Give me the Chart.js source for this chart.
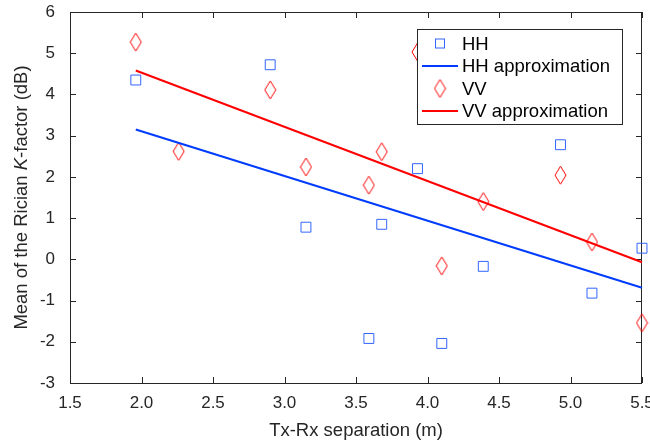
<!DOCTYPE html>
<html>
<head>
<meta charset="utf-8">
<script src="https://cdn.jsdelivr.net/npm/chart.js@4"></script>
<style>
  body { margin: 0; background: #fff; }
  #wrap { width: 650px; height: 446px; }
</style>
</head>
<body>
<div id="wrap"><canvas id="kChart" width="650" height="446"></canvas></div>
<script>
// values
const separation = [1.96, 2.26, 2.9, 3.15, 3.59, 3.68, 3.93, 4.1, 4.39, 4.93, 5.15, 5.5];
const hhK = [4.35, null, 4.72, 0.78, -1.92, 0.85, 2.2, -2.04, -0.17, 2.78, -0.82, 0.27];
const vvK = [5.27, 2.62, 4.11, 2.24, 1.8, 2.61, 5.03, -0.16, 1.4, 2.04, 0.42, -1.54];
const fitX = [1.96, 5.5];
const hhFit = [3.15, -0.69];
const vvFit = [4.58, -0.07];
const legendLabels = ['HH', 'HH approximation', 'VV', 'VV approximation'];

const axisColor = '#262626';
const blue = 'rgb(0,60,255)';
const blueMarker = 'rgb(50,100,255)';
const red = 'rgb(255,0,0)';
const font = 'Liberation Sans, Arial, sans-serif';

const pts = (xs, ys) => xs.map((v, i) => ({x: v, y: ys[i]})).filter(p => p.y !== null);

// tall diamond marker
const diamond = document.createElement('canvas');
diamond.width = 13; diamond.height = 20;
(() => {
  const c = diamond.getContext('2d');
  c.strokeStyle = red; c.lineWidth = 1;
  c.beginPath();
  c.moveTo(6.5, 1); c.lineTo(12, 10); c.lineTo(6.5, 19); c.lineTo(1, 10);
  c.closePath(); c.stroke();
})();

const frame = {
  id: 'frame',
  beforeDatasetsDraw(chart) {
    const {ctx, chartArea: a, scales: {x, y}} = chart;
    ctx.save();
    ctx.strokeStyle = axisColor;
    ctx.lineWidth = 1;
    ctx.strokeRect(a.left + 0.5, a.top + 0.5, a.right - a.left - 1, a.bottom - a.top);
    ctx.beginPath();
    x.ticks.forEach(t => {
      const px = Math.round(x.getPixelForValue(t.value)) + 0.5;
      ctx.moveTo(px, a.bottom); ctx.lineTo(px, a.bottom - 6);
      ctx.moveTo(px, a.top); ctx.lineTo(px, a.top + 6);
    });
    y.ticks.forEach(t => {
      const py = Math.round(y.getPixelForValue(t.value)) + 0.5;
      ctx.moveTo(a.left, py); ctx.lineTo(a.left + 6, py);
      ctx.moveTo(a.right, py); ctx.lineTo(a.right - 6, py);
    });
    ctx.stroke();
    ctx.restore();
  },
  afterDatasetsDraw(chart) {
    // legend box, drawn over the data like the original
    const ctx = chart.ctx;
    const box = {l: 417.5, t: 29.5, r: 622.5, b: 124.5};
    ctx.save();
    ctx.fillStyle = '#fff';
    ctx.fillRect(box.l, box.t, box.r - box.l, box.b - box.t);
    ctx.strokeStyle = axisColor;
    ctx.lineWidth = 1;
    ctx.strokeRect(box.l, box.t, box.r - box.l, box.b - box.t);
    const rows = [43.5, 66, 88.5, 111];
    ctx.font = '18.5px ' + font;
    ctx.fillStyle = '#000';
    ctx.textBaseline = 'middle';
    legendLabels.forEach((lab, i) => {
      const cy = rows[i];
      if (i === 0) {
        ctx.strokeStyle = blueMarker;
        ctx.strokeRect(435.5, cy - 4.5, 9, 9);
      } else if (i === 2) {
        ctx.drawImage(diamond, 440 - 6.5, cy - 10);
      } else {
        ctx.strokeStyle = i === 1 ? blue : red;
        ctx.lineWidth = 2;
        ctx.beginPath(); ctx.moveTo(422, cy); ctx.lineTo(458, cy); ctx.stroke();
        ctx.lineWidth = 1;
      }
      ctx.fillText(lab, 462, cy + 1);
    });
    ctx.restore();
  },
  afterDraw(chart) {
    // y title with italic K
    const ctx = chart.ctx;
    const a = chart.chartArea;
    const parts = [['Mean of the Rician ', ''], ['K', 'italic '], ['-factor (dB)', '']];
    ctx.save();
    ctx.translate(22, (a.top + a.bottom) / 2);
    ctx.rotate(-Math.PI / 2);
    ctx.fillStyle = axisColor;
    ctx.textBaseline = 'middle';
    let total = 0;
    parts.forEach(p => { ctx.font = p[1] + '18.5px ' + font; total += ctx.measureText(p[0]).width; });
    let cx = -total / 2;
    parts.forEach(p => {
      ctx.font = p[1] + '18.5px ' + font;
      ctx.fillText(p[0], cx, 0);
      cx += ctx.measureText(p[0]).width;
    });
    ctx.restore();
  }
};

new Chart(document.getElementById('kChart'), {
  type: 'scatter',
  data: {
    datasets: [
      {
        label: 'HH',
        data: pts(separation, hhK),
        pointStyle: 'rect',
        pointRadius: 7,
        pointBorderWidth: 1,
        pointBorderColor: blueMarker,
        pointBackgroundColor: 'rgba(0,0,0,0)',
        clip: false
      },
      {
        label: 'HH approximation',
        data: pts(fitX, hhFit),
        showLine: true,
        borderColor: blue,
        borderWidth: 2,
        pointRadius: 0,
        clip: false
      },
      {
        label: 'VV',
        data: pts(separation, vvK),
        pointStyle: diamond,
        pointRadius: 7,
        clip: false
      },
      {
        label: 'VV approximation',
        data: pts(fitX, vvFit),
        showLine: true,
        borderColor: red,
        borderWidth: 2,
        pointRadius: 0,
        clip: false
      }
    ]
  },
  options: {
    responsive: false,
    animation: false,
    layout: { padding: { top: 12, right: 8, left: 0, bottom: 0 } },
    scales: {
      x: {
        type: 'linear',
        min: 1.5,
        max: 5.5,
        grid: { display: false },
        border: { display: false },
        ticks: { stepSize: 0.5, padding: 2, color: axisColor, font: { family: font, size: 17 } },
        title: {
          display: true,
          text: 'Tx-Rx separation (m)',
          color: axisColor,
          font: { family: font, size: 18.5 },
          padding: { top: 0, bottom: 4 }
        },
        afterFit(s) { s.height = 63; s.paddingLeft = 0; s.paddingRight = 0; }
      },
      y: {
        min: -3,
        max: 6,
        grid: { display: false },
        border: { display: false },
        ticks: { stepSize: 1, padding: 7, color: axisColor, font: { family: font, size: 17 } },
        afterFit(s) { s.width = 70; s.paddingTop = 0; s.paddingBottom = 0; }
      }
    },
    plugins: {
      legend: { display: false },
      tooltip: { enabled: false }
    }
  },
  plugins: [frame]
});
</script>
</body>
</html>
